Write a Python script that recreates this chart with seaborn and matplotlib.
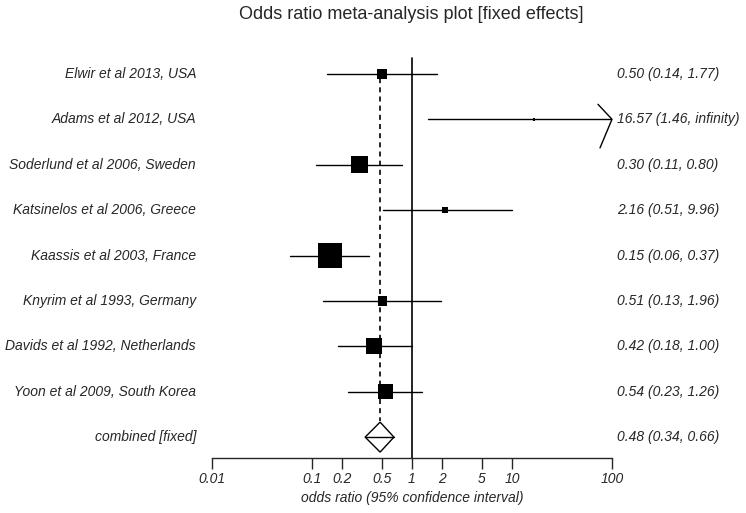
import numpy as np
import pandas as pd
import matplotlib
matplotlib.use("Agg")
import matplotlib.pyplot as plt
import matplotlib.transforms as mtransforms
import seaborn as sns

studies = [
    "Elwir et al 2013, USA",
    "Adams et al 2012, USA",
    "Soderlund et al 2006, Sweden",
    "Katsinelos et al 2006, Greece",
    "Kaassis et al 2003, France",
    "Knyrim et al 1993, Germany",
    "Davids et al 1992, Netherlands",
    "Yoon et al 2009, South Korea",
]
odds = [0.50, 16.57, 0.30, 2.16, 0.15, 0.51, 0.42, 0.54]
lower = [0.14, 1.46, 0.11, 0.51, 0.06, 0.13, 0.18, 0.23]
upper = [1.77, np.inf, 0.80, 9.96, 0.37, 1.96, 1.00, 1.26]
weights = [6.5, 0.6, 19.0, 2.4, 36.0, 5.4, 16.0, 13.5]
pooled, pooled_lo, pooled_hi = 0.48, 0.34, 0.66
ci_text = ["0.50 (0.14, 1.77)", "16.57 (1.46, infinity)", "0.30 (0.11, 0.80)",
           "2.16 (0.51, 9.96)", "0.15 (0.06, 0.37)", "0.51 (0.13, 1.96)",
           "0.42 (0.18, 1.00)", "0.54 (0.23, 1.26)"]
pooled_text = "0.48 (0.34, 0.66)"
tick_vals = [0.01, 0.1, 0.2, 0.5, 1, 2, 5, 10, 100]
tick_labels = ["0.01", "0.1", "0.2", "0.5", "1", "2", "5", "10", "100"]

sns.set_style("white")
plt.rcParams['font.family'] = ['Liberation Sans', 'DejaVu Sans']

W, H = 746, 513
fig = plt.figure(figsize=(W / 100, H / 100), dpi=100)
ax = fig.add_axes([212 / W, (H - 458) / H, 400 / W, 400 / H])

xmin, xmax = 0.01, 100
df = pd.DataFrame({"study": studies, "or": odds, "lo": lower, "hi": upper,
                   "w": weights, "row": np.arange(len(studies))})
n = len(studies)

# confidence interval lines
for _, r in df.iterrows():
    hi = min(r["hi"], xmax)
    ax.plot([r["lo"], hi], [r["row"], r["row"]], color="black", lw=1, zorder=2)
    if np.isinf(r["hi"]):
        # open arrow head at the axis edge
        tip = np.log10(xmax)
        ax.plot([10 ** (tip - 0.14), xmax, 10 ** (tip - 0.12)],
                [r["row"] - 0.33, r["row"], r["row"] + 0.63],
                color="black", lw=1, zorder=2, clip_on=False)

# squares sized by weight
sns.scatterplot(data=df, x="or", y="row", size="w", sizes=(4, 300),
                size_norm=(0.6, 36), marker="s", color="black",
                edgecolor="black", linewidth=0, legend=False, ax=ax, zorder=3)

# pooled estimate reference lines
ax.plot([pooled, pooled], [-0.1, n - 0.35], color="black", lw=1.2,
        ls=(0, (3, 2.5)), zorder=4)
ax.plot([1, 1], [-0.35, n + 0.46], color="black", lw=1.2, zorder=1, clip_on=False)

# diamond
dy = 0.33
ax.fill([pooled_lo, pooled, pooled_hi, pooled, pooled_lo],
        [n, n - dy, n, n + dy, n], facecolor="white", edgecolor="black", lw=1, zorder=3)
ax.plot([pooled_lo, pooled_hi], [n, n], color="black", lw=1, zorder=4)

ax.set_xscale("log")
ax.set_xlim(xmin, xmax)
ax.set_ylim(n + 0.46, -0.35)
ax.set_yticks([])
ax.set_ylabel("")
ax.set_xticks(tick_vals)
ax.set_xticklabels(tick_labels, fontstyle="italic", fontsize=10)
ax.xaxis.set_minor_locator(matplotlib.ticker.NullLocator())
ax.tick_params(axis="x", direction="out", length=8, width=1, pad=2, bottom=True)
for s in ["top", "left", "right"]:
    ax.spines[s].set_visible(False)
ax.spines["bottom"].set_linewidth(1)
ax.set_xlabel("odds ratio (95% confidence interval)", fontstyle="italic",
              fontsize=10, labelpad=4)

trans = mtransforms.blended_transform_factory(ax.transAxes, ax.transData)
for i in range(n):
    ax.text(-0.04, i, studies[i], transform=trans, ha="right", va="center",
            fontstyle="italic", fontsize=10)
    ax.text(1.012, i, ci_text[i], transform=trans, ha="left", va="center",
            fontstyle="italic", fontsize=10)
ax.text(-0.04, n, "combined [fixed]", transform=trans, ha="right", va="center",
        fontstyle="italic", fontsize=10)
ax.text(1.012, n, pooled_text, transform=trans, ha="left", va="center",
        fontstyle="italic", fontsize=10)

fig.text(411 / W, 1 - 15 / H, "Odds ratio meta-analysis plot [fixed effects]",
         ha="center", va="center", fontsize=13)

fig.savefig("out.png", dpi=100)
